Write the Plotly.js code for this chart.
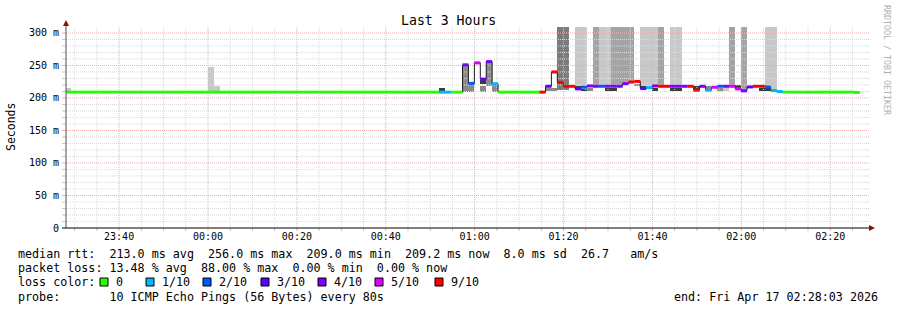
<!DOCTYPE html>
<html><head><meta charset="utf-8">
<script src="https://cdn.plot.ly/plotly-3.0.1.min.js"></script>
<style>html,body{margin:0;padding:0;background:#fff}#chart{width:897px;height:310px}</style>
</head><body><div id="chart"></div>
<script>
// ---------------- DATA ----------------
// 80 s steps; first listed step starts 2026-04-16 23:27:56 (step index 0 here)
const firstStep = '2026-04-16 23:27:56';
const stepSeconds = 80;

// median rtt (ms) for each step
const medianMs = [
 209,209,209,209,209,209,209,209,209,209,
 209,209,209,209,209,209,209,209,209,209,
 209,209,209,209,209,209,209,209,209,209,
 209,209,209,209,209,209,209,209,209,209,
 209,209,209,209,209,209,209,209,209,209,
 209,209,209,209,209,209,209,209,209,209,
 209,209,209,
 209,209, 209,209,
 251,222.5,254,229,256,222,
 209,209,209,209,209,209,209,
 209,218,240,224,218,218,
 214,216.5,218.5,218,218,218,218,218,222,
 224.5,225.5,214.5,216,218.5,218,218,218,218,218,
 218,212,218,212,216.5,218,218,218,214,211,
 217,218,218,217,211.5,210,
 209,209,209,209,209,209,209,209,209,209,209,209,208.5
];
// lost pings out of 10 for each step
const lossTenths = [
 0,0,0,0,0,0,0,0,0,0,
 0,0,0,0,0,0,0,0,0,0,
 0,0,0,0,0,0,0,0,0,0,
 0,0,0,0,0,0,0,0,0,0,
 0,0,0,0,0,0,0,0,0,0,
 0,0,0,0,0,0,0,0,0,0,
 0,0,0,
 1,1, 0,0,
 4,2,5,3,4,1,
 0,0,0,0,0,0,0,
 9,3,9,9,9,9,
 3,2,4,4,2,4,4,4,4,
 9,9,3,1,4,9,9,4,4,4,
 9,9,4,1,5,2,4,5,5,4,
 3,9,9,2,1,1,
 0,0,0,0,0,0,0,0,0,0,0,0,0
];
// smoke (ping spread) blocks: step index (as above, minus 1), low/high ms, density shade
const smokeStep = [-1,23,24,62,66,67,69,69,70,71, 80,81,82,83,85,85,86,86,87,88,
  89,90,90,91,91,92,93,94,95,96, 96,97,98,98,99,101,101,102,102,105,
  107,109,110,111,112,113,116,117,117,118];
const smokeLow = [209,209,209,211,209,209,209,222,218,209, 211,211,213,213,219,216,219,210,211,219,
  219,219,211,219,211,219,223,226,218,219, 216,218,220,211,220,220,211,220,211,214,
  214,211,211,220,216,213,211,219,211,213];
const smokeHigh = [216,248,218,215,251,221,218,227,256,221, 216,216,310,310,310,219,310,214,216,310,
  310,310,216,310,216,310,310,310,222,310, 219,310,310,216,310,310,216,310,216,218,
  218,216,216,310,220,310,215,310,215,310];
const smokeShade = ['L','L','L','K','G','G','G','K','G','G', 'G','G','D','D','L','K','L','K','G','M',
  'L','L','K','M','K','M','M','M','G','L', 'K','L','L','K','M','L','K','L','K','K',
  'G','G','L','M','K','M','K','L','K','L'];

const lossLevels = [0,1,2,3,4,5,9];
const lossLabels = ['0','1/10','2/10','3/10','4/10','5/10','9/10'];
const yTickVals = [0,50,100,150,200,250,300];
const yTickText = ['0','50 m','100 m','150 m','200 m','250 m','300 m'];
const titleText = 'Last 3 Hours';
const yTitle = 'Seconds';
const legendLines = [
 'median rtt:  213.0 ms avg  256.0 ms max  209.0 ms min  209.2 ms now  8.0 ms sd  26.7   am/s',
 'packet loss: 13.48 % avg  88.00 % max  0.00 % min  0.00 % now',
 'loss color:',
 'probe:       10 ICMP Echo Pings (56 Bytes) every 80s'
];
const endText = 'end: Fri Apr 17 02:28:03 2026';
const watermark = 'RRDTOOL / TOBI OETIKER';
const xStart = '2026-04-16 23:28:03', xEnd = '2026-04-17 02:28:03';

// ---------------- STYLE ----------------
const MONO = 'DejaVu Sans Mono, monospace';
const lossColors = {0:'#26ff00',1:'#00b8ff',2:'#0059ff',3:'#5e00ff',4:'#7e00ff',5:'#dd00ff',9:'#ff0000'};
const shadeColors = {L:'#c8c8c8', M:'#a4a4a4', D:'#7c7c7c', G:'#8a8a8a', K:'#3c3c3c'};
const PL=66, PR=866, PT=27, PB=228;
const px2x = px => (px-PL)/(PR-PL);
const py2y = py => (PB-py)/(PB-PT);
const YMAX = 309.2;

function parseT(s){ const m=s.match(/(\d+)-(\d+)-(\d+) (\d+):(\d+):(\d+)/); return Date.UTC(+m[1],+m[2]-1,+m[3],+m[4],+m[5],+m[6]); }
function iso(ms){ const d=new Date(ms); const p=n=>String(n).padStart(2,'0');
  return d.getUTCFullYear()+'-'+p(d.getUTCMonth()+1)+'-'+p(d.getUTCDate())+' '+p(d.getUTCHours())+':'+p(d.getUTCMinutes())+':'+p(d.getUTCSeconds()); }
const T0 = parseT(firstStep), SMS = stepSeconds*1000;
const stepStart = i => T0 + i*SMS;

const traces = [];
// smoke
traces.push({
  type:'bar', x: smokeStep.map(k=>iso(stepStart(k+1)+SMS/2)),
  y: smokeHigh.map((h,i)=>h-smokeLow[i]), base: smokeLow,
  width: smokeStep.map(()=>SMS),
  marker:{color: smokeShade.map(s=>shadeColors[s]), line:{width:0}},
  hoverinfo:'skip'
});

// grid (over smoke, under median line, like rrdtool)
const DASH='1px,1px';
const gMinor='#dcdcdc', gMajor='#f4aaaa';
const gridStart = parseT('2026-04-16 23:30:00');
const gridEnd = parseT('2026-04-17 02:25:00');
const minorV=[], majorV=[];
for(let t=gridStart; t<=gridEnd; t+=300000){ (new Date(t).getUTCMinutes()%20===0 ? majorV : minorV).push(t); }
const minorH=[], majorH=[];
for(let v=10; v<=300; v+=10){ (v%50===0 ? majorH : minorH).push(v); }
function gridTrace(hv, vv, color){
  const xs=[], ys=[];
  hv.forEach(v=>{ xs.push(xStart, xEnd, null); ys.push(v, v, null); });
  vv.forEach(t=>{ xs.push(iso(t), iso(t), null); ys.push(0, YMAX, null); });
  return {type:'scatter', mode:'lines', x:xs, y:ys, line:{color:color, width:1, dash:DASH}, connectgaps:false, hoverinfo:'skip'};
}
traces.push(gridTrace(minorH, minorV, gMinor));
traces.push(gridTrace(majorH, majorV, gMajor));

// thin median line
{
  const xs = medianMs.map((v,i)=>iso(stepStart(i)));
  xs.push(iso(stepStart(medianMs.length)));
  const ys = medianMs.slice(); ys.push(medianMs[medianMs.length-1]);
  traces.push({type:'scatter', mode:'lines', x:xs, y:ys, line:{shape:'hv', color:'#202020', width:1}, hoverinfo:'skip'});
}
// loss-coloured median segments
lossLevels.forEach(lv=>{
  const xs=[], ys=[];
  medianMs.forEach((v,i)=>{ if(lossTenths[i]===lv){ xs.push(iso(stepStart(i)), iso(stepStart(i+1)), null); ys.push(v, v, null);} });
  traces.push({type:'scatter', mode:'lines', x:xs, y:ys, line:{color:lossColors[lv], width:3}, connectgaps:false, hoverinfo:'skip'});
});

const shapes = [];
// grid stubs outside the plot area
minorH.concat(majorH).forEach(v=>{
  const c = v%50===0 ? gMajor : '#c8c8c8';
  shapes.push({type:'line',layer:'above',xref:'paper',yref:'y',x0:px2x(62),x1:0,y0:v,y1:v,line:{color:c,width:1}});
  shapes.push({type:'line',layer:'above',xref:'paper',yref:'y',x0:1,x1:px2x(869),y0:v,y1:v,line:{color:c,width:1,dash:DASH}});
});
minorV.concat(majorV).forEach(t=>{
  const c = new Date(t).getUTCMinutes()%20===0 ? gMajor : '#c8c8c8';
  shapes.push({type:'line',layer:'above',xref:'x',yref:'paper',x0:iso(t),x1:iso(t),y0:py2y(231),y1:0,line:{color:c,width:1}});
});
// axes
shapes.push({type:'line',layer:'above',xref:'paper',yref:'paper',x0:0,x1:0,y0:0,y1:py2y(23),line:{color:'#505050',width:1}});
shapes.push({type:'line',layer:'above',xref:'paper',yref:'paper',x0:px2x(62),x1:px2x(870),y0:0,y1:0,line:{color:'#000000',width:1}});
const P=(a,b)=>px2x(a)+','+py2y(b);
shapes.push({type:'path',layer:'above',xref:'paper',yref:'paper',path:'M'+P(63,26)+' L'+P(69,26)+' L'+P(66,20)+' Z',fillcolor:'#8b1010',line:{width:0}});
shapes.push({type:'path',layer:'above',xref:'paper',yref:'paper',path:'M'+P(869,225)+' L'+P(869,231)+' L'+P(875,228)+' Z',fillcolor:'#8b1010',line:{width:0}});

// annotations
const nb = s => s.replace(/ /g,'\u00a0');
const ann = [];
function txt(text, px, py, o={}){
  ann.push({text:nb(text), xref:'paper', yref:'paper', x:px2x(px), y:py2y(py), xanchor:o.xa||'left', yanchor:'middle',
    showarrow:false, textangle:o.angle||0, font:{family:MONO, size:o.size||11.7, color:o.color||'#000'}});
}
txt(titleText, 448, 20, {xa:'center', size:13.2});
txt(yTitle, 11, 127, {xa:'center', angle:-90, size:11.5});
txt(watermark, 887, 60, {xa:'center', angle:90, size:8.3, color:'#b0b0b0'});
const lineY = [253.5, 268, 282, 296.5];
legendLines.forEach((l,i)=>txt(l, 16, lineY[i]));
txt(endText, 880, 296.5, {xa:'right'});
const swX = [100,146,203,261,318,375,435];
lossLevels.forEach((lv,i)=>{
  shapes.push({type:'rect',layer:'above',xref:'paper',yref:'paper',x0:px2x(swX[i]),x1:px2x(swX[i]+8),y0:py2y(286),y1:py2y(278),
    fillcolor:lossColors[lv],line:{color:'#000',width:1}});
  txt(lossLabels[i], swX[i]+14, 282);
});

const layout = {
  width:897, height:310, margin:{l:PL, r:897-PR, t:PT, b:310-PB, pad:0},
  paper_bgcolor:'#ffffff', plot_bgcolor:'#ffffff', showlegend:false, barmode:'overlay', bargap:0,
  xaxis:{type:'date', range:[xStart,xEnd], tickformat:'%H:%M', dtick:1200000, tick0:'2026-04-16 23:40:00',
    showgrid:false, zeroline:false, showline:false, ticks:'', ticklabelstandoff:1,
    tickfont:{family:MONO, size:10, color:'#000'}, fixedrange:true},
  yaxis:{range:[0,YMAX], tickvals:yTickVals, ticktext:yTickText, showgrid:false, zeroline:false, showline:false,
    ticks:'', ticklabelstandoff:6, tickfont:{family:MONO, size:10, color:'#000'}, fixedrange:true},
  shapes:shapes, annotations:ann, hovermode:false
};
Plotly.newPlot('chart', traces, layout, {staticPlot:true, displayModeBar:false});
</script></body></html>
